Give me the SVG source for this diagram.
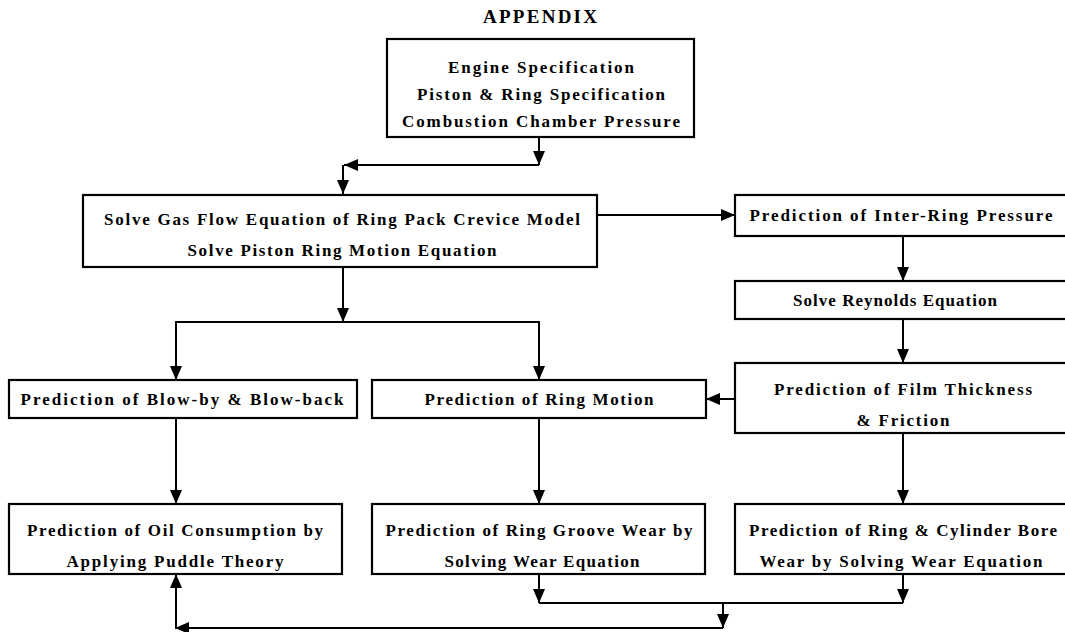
<svg xmlns="http://www.w3.org/2000/svg" width="1065" height="632" viewBox="0 0 1065 632">
<style>
.box{fill:#fff;stroke:#000;stroke-width:2.2}
.t{font-family:"Liberation Serif","DejaVu Serif",serif;font-size:17px;font-weight:bold;fill:#000;text-anchor:middle}
.c{fill:none;stroke:#000;stroke-width:2}
.title{font-family:"Liberation Serif",serif;font-size:19px;font-weight:bold;fill:#000;text-anchor:middle}
</style>
<defs>
<marker id="arr" viewBox="0 0 14 12" refX="14" refY="6" markerWidth="14" markerHeight="12" orient="auto" markerUnits="userSpaceOnUse">
<path d="M0,0 L14,6 L0,12 z" fill="#000"/>
</marker>
</defs>
<rect width="1065" height="632" fill="#fff"/>
<text class="title" x="540" y="23" textLength="114" lengthAdjust="spacing">APPENDIX</text>
<g id="connectors">
<path class="c" d="M539,137 V165" marker-end="url(#arr)"/>
<path class="c" d="M539,165 H344" marker-end="url(#arr)"/>
<path class="c" d="M343,165 V194" marker-end="url(#arr)"/>
<path class="c" d="M597,215 H735" marker-end="url(#arr)"/>
<path class="c" d="M903,236 V281" marker-end="url(#arr)"/>
<path class="c" d="M903,319 V363" marker-end="url(#arr)"/>
<path class="c" d="M735,399 H706" marker-end="url(#arr)"/>
<path class="c" d="M343,267 V322" marker-end="url(#arr)"/>
<path class="c" d="M176,322 H539"/>
<path class="c" d="M176,321 V380" marker-end="url(#arr)"/>
<path class="c" d="M539,321 V380" marker-end="url(#arr)"/>
<path class="c" d="M176,418 V504" marker-end="url(#arr)"/>
<path class="c" d="M539,418 V504" marker-end="url(#arr)"/>
<path class="c" d="M903,433 V504" marker-end="url(#arr)"/>
<path class="c" d="M539,574 V603" marker-end="url(#arr)"/>
<path class="c" d="M903,574 V603" marker-end="url(#arr)"/>
<path class="c" d="M539,603 H903"/>
<path class="c" d="M723,603 V628" marker-end="url(#arr)"/>
<path class="c" d="M723,628 H175" marker-end="url(#arr)"/>
<path class="c" d="M176,629 V574" marker-end="url(#arr)"/>
</g>
<g id="n-engine">
<rect class="box" x="387" y="39" width="307" height="98"/>
<text class="t" x="541" y="73" textLength="186" lengthAdjust="spacing">Engine Specification</text>
<text class="t" x="541" y="100" textLength="248" lengthAdjust="spacing">Piston &amp; Ring Specification</text>
<text class="t" x="541" y="127" textLength="278" lengthAdjust="spacing">Combustion Chamber Pressure</text>
</g>
<g id="n-gasflow">
<rect class="box" x="83" y="195" width="514" height="72"/>
<text class="t" x="342" y="225" textLength="476" lengthAdjust="spacing">Solve Gas Flow Equation of Ring Pack Crevice Model</text>
<text class="t" x="342" y="256" textLength="309" lengthAdjust="spacing">Solve Piston Ring Motion Equation</text>
</g>
<g id="n-interring">
<rect class="box" x="735" y="195" width="340" height="41"/>
<text class="t" x="901" y="221" textLength="303" lengthAdjust="spacing">Prediction of Inter-Ring Pressure</text>
</g>
<g id="n-reynolds">
<rect class="box" x="735" y="281" width="340" height="38"/>
<text class="t" x="895" y="306" textLength="204" lengthAdjust="spacing">Solve Reynolds Equation</text>
</g>
<g id="n-film">
<rect class="box" x="735" y="363" width="340" height="70"/>
<text class="t" x="903" y="395" textLength="258" lengthAdjust="spacing">Prediction of Film Thickness</text>
<text class="t" x="903" y="426" textLength="93" lengthAdjust="spacing">&amp; Friction</text>
</g>
<g id="n-blowby">
<rect class="box" x="9" y="380" width="348" height="38"/>
<text class="t" x="182" y="405" textLength="323" lengthAdjust="spacing">Prediction of Blow-by &amp; Blow-back</text>
</g>
<g id="n-ringmotion">
<rect class="box" x="372" y="380" width="334" height="38"/>
<text class="t" x="539" y="405" textLength="229" lengthAdjust="spacing">Prediction of Ring Motion</text>
</g>
<g id="n-oil">
<rect class="box" x="9" y="504" width="333" height="70"/>
<text class="t" x="175" y="536" textLength="296" lengthAdjust="spacing">Prediction of Oil Consumption by</text>
<text class="t" x="175" y="567" textLength="217" lengthAdjust="spacing">Applying Puddle Theory</text>
</g>
<g id="n-groove">
<rect class="box" x="372" y="504" width="333" height="70"/>
<text class="t" x="539" y="536" textLength="307" lengthAdjust="spacing">Prediction of Ring Groove Wear by</text>
<text class="t" x="542" y="567" textLength="195" lengthAdjust="spacing">Solving Wear Equation</text>
</g>
<g id="n-bore">
<rect class="box" x="735" y="504" width="340" height="70"/>
<text class="t" x="903" y="536" textLength="308" lengthAdjust="spacing">Prediction of Ring &amp; Cylinder Bore</text>
<text class="t" x="901" y="567" textLength="283" lengthAdjust="spacing">Wear by Solving Wear Equation</text>
</g>
</svg>
